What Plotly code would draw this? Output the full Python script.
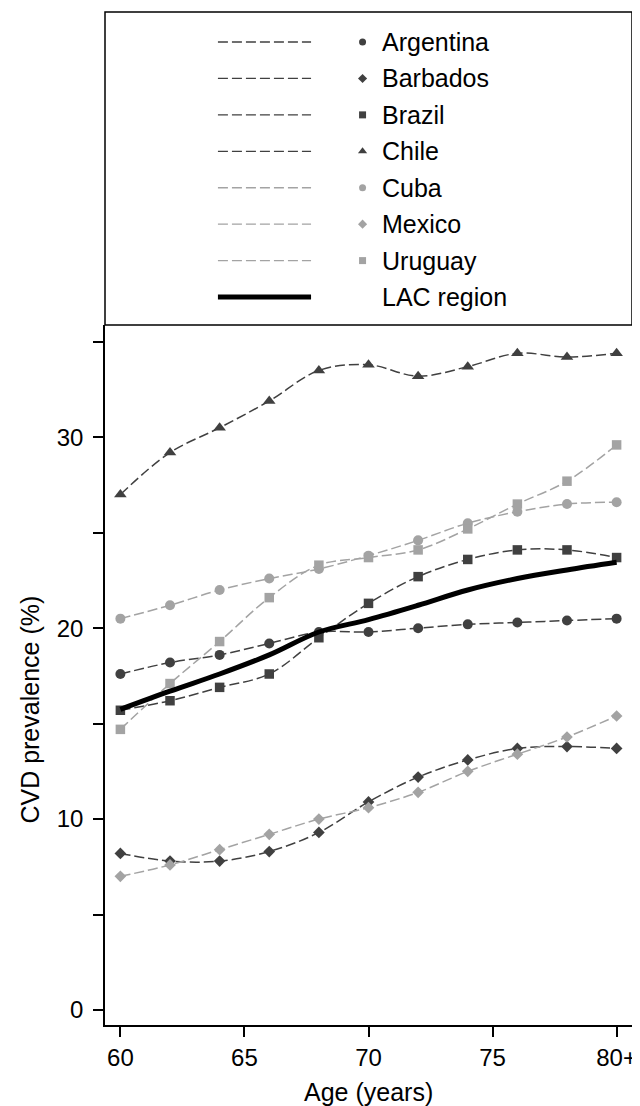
import plotly.graph_objects as go

# ---------------- data ----------------
ages = [60, 62, 64, 66, 68, 70, 72, 74, 76, 78, 80]
x_tick_vals = [60, 65, 70, 75, 80]
x_tick_text = ["60", "65", "70", "75", "80+"]
y_tick_vals = [0, 5, 10, 15, 20, 25, 30, 35]
y_tick_text = ["0", "", "10", "", "20", "", "30", ""]

argentina = [17.6, 18.2, 18.6, 19.2, 19.8, 19.8, 20.0, 20.2, 20.3, 20.4, 20.5]
barbados = [8.2, 7.8, 7.8, 8.3, 9.3, 10.9, 12.2, 13.1, 13.7, 13.8, 13.7]
brazil = [15.7, 16.2, 16.9, 17.6, 19.5, 21.3, 22.7, 23.6, 24.1, 24.1, 23.7]
chile = [27.0, 29.2, 30.5, 31.9, 33.5, 33.8, 33.2, 33.7, 34.4, 34.2, 34.4]
cuba = [20.5, 21.2, 22.0, 22.6, 23.1, 23.8, 24.6, 25.5, 26.1, 26.5, 26.6]
mexico = [7.0, 7.6, 8.4, 9.2, 10.0, 10.6, 11.4, 12.5, 13.4, 14.3, 15.4]
uruguay = [14.7, 17.1, 19.3, 21.6, 23.3, 23.7, 24.1, 25.2, 26.5, 27.7, 29.6]
lac_region = [15.75, 16.7, 17.6, 18.6, 19.8, 20.45, 21.2, 22.0, 22.6, 23.05, 23.45]

country_names = ["Argentina", "Barbados", "Brazil", "Chile", "Cuba", "Mexico", "Uruguay"]
country_values = [argentina, barbados, brazil, chile, cuba, mexico, uruguay]
lac_name = "LAC region"

# ---------------- styles ----------------
DARK = "#404040"
LIGHT = "#a3a3a3"
country_colors = [DARK, DARK, DARK, DARK, LIGHT, LIGHT, LIGHT]
country_symbols = ["circle", "diamond", "square", "triangle-up", "circle", "diamond", "square"]
symbol_sizes = {"circle": 10, "diamond": 9, "square": 9.5, "triangle-up": 11}
leg_symbol_sizes = {"circle": 7, "diamond": 7, "square": 7, "triangle-up": 8}
FONT = "Liberation Sans, Arial, Helvetica, sans-serif"
FS = 24
FS_LEG = 25

fig = go.Figure()

# main series
for name, vals, col, sym in zip(country_names, country_values, country_colors, country_symbols):
    fig.add_trace(go.Scatter(
        x=ages, y=vals, mode="lines+markers", name=name,
        line=dict(color=col, width=1.5, dash="10px,4px", shape="spline", smoothing=1),
        marker=dict(symbol=sym, size=symbol_sizes[sym], color=col, line=dict(width=0)),
        showlegend=False, xaxis="x", yaxis="y"))

fig.add_trace(go.Scatter(
    x=ages, y=lac_region, mode="lines", name=lac_name,
    line=dict(color="black", width=5, shape="spline", smoothing=1),
    showlegend=False, xaxis="x", yaxis="y"))

# ---------------- hand-made legend in its own axes ----------------
LEG_LINE_X = [114, 208]
LEG_MARK_X = 260
LEG_TEXT_X = 278
for i, (name, col, sym) in enumerate(zip(country_names, country_colors, country_symbols)):
    fig.add_trace(go.Scatter(x=LEG_LINE_X, y=[i, i], mode="lines",
                             line=dict(color=col, width=1.3, dash="10px,4px"),
                             showlegend=False, hoverinfo="skip", xaxis="x2", yaxis="y2"))
    fig.add_trace(go.Scatter(x=[LEG_MARK_X], y=[i], mode="markers",
                             marker=dict(symbol=sym, size=leg_symbol_sizes[sym], color=col, line=dict(width=0)),
                             showlegend=False, hoverinfo="skip", xaxis="x2", yaxis="y2"))
    fig.add_annotation(x=LEG_TEXT_X, y=i, xref="x2", yref="y2", text=name, showarrow=False,
                       xanchor="left", yanchor="middle", font=dict(size=FS_LEG, color="black", family=FONT))
n = len(country_names)
fig.add_trace(go.Scatter(x=LEG_LINE_X, y=[n, n], mode="lines",
                         line=dict(color="black", width=5),
                         showlegend=False, hoverinfo="skip", xaxis="x2", yaxis="y2"))
fig.add_annotation(x=LEG_TEXT_X, y=n, xref="x2", yref="y2", text=lac_name, showarrow=False,
                   xanchor="left", yanchor="middle", font=dict(size=FS_LEG, color="black", family=FONT))

MAIN_TOP = 0.691
fig.add_shape(type="rect", xref="paper", yref="paper", x0=0, x1=1, y0=MAIN_TOP, y1=1,
              line=dict(color="black", width=1.5), fillcolor="rgba(0,0,0,0)")

# axis titles
fig.add_annotation(x=-0.143, y=0.311, xref="paper", yref="paper", text="CVD prevalence (%)",
                   textangle=-90, showarrow=False, xanchor="center", yanchor="middle",
                   font=dict(size=FS_LEG, color="black", family=FONT))
fig.add_annotation(x=0.5, y=-0.066, xref="paper", yref="paper", text="Age (years)",
                   showarrow=False, xanchor="center", yanchor="middle",
                   font=dict(size=FS_LEG, color="black", family=FONT))

# the page adds an 8px body margin, so the figure is 8px smaller and shifted
fig.update_layout(
    width=632, height=1098,
    margin=dict(l=97, r=3, t=4, b=81),
    paper_bgcolor="white", plot_bgcolor="white",
    font=dict(family=FONT, size=FS, color="black"),
    showlegend=False,
    xaxis=dict(domain=[0, 1], range=[59.38, 80.62], tickmode="array",
               tickvals=x_tick_vals, ticktext=x_tick_text, ticks="outside", ticklen=10,
               tickwidth=1.5, tickcolor="black", showline=True, linecolor="black", linewidth=1.5,
               showgrid=False, zeroline=False, anchor="y", ticklabeloverflow="allow",
               tickfont=dict(size=FS, family=FONT, color="black")),
    yaxis=dict(domain=[0, MAIN_TOP], range=[-0.786, 35.88], tickmode="array",
               tickvals=y_tick_vals, ticktext=y_tick_text, ticks="outside", ticklen=10,
               tickwidth=1.5, tickcolor="black", showline=True, linecolor="black", linewidth=1.5,
               showgrid=False, zeroline=False, anchor="x", ticklabelstandoff=5,
               tickfont=dict(size=FS, family=FONT, color="black")),
    xaxis2=dict(domain=[0, 1], range=[0, 532], visible=False, anchor="y2"),
    yaxis2=dict(domain=[MAIN_TOP, 1], range=[7.768, -0.8235], visible=False, anchor="x2"),
)

fig.write_html("out.html")
